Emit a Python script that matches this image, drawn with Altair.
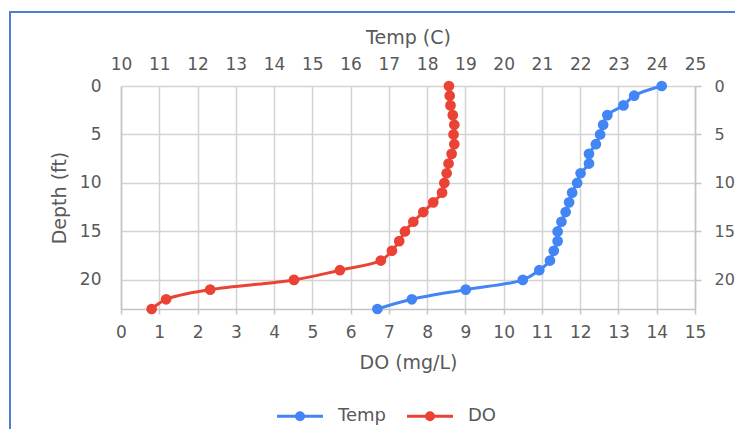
import altair as alt
import pandas as pd

# ---- data ----
depth = list(range(24))
temp = [24.13, 23.41, 23.13, 22.71, 22.60, 22.52, 22.41, 22.23, 22.23, 22.01,
        21.92, 21.79, 21.71, 21.62, 21.51, 21.41, 21.41, 21.31, 21.21, 20.93,
        20.50, 19.01, 17.60, 16.70]
do = [8.57, 8.59, 8.61, 8.67, 8.71, 8.69, 8.71, 8.64, 8.56, 8.51,
      8.45, 8.39, 8.16, 7.90, 7.64, 7.42, 7.27, 7.08, 6.79, 5.72,
      4.52, 2.33, 1.18, 0.80]
series = ["Temp", "DO"]
colors = ["#4285F4", "#EA4335"]
do_ticks = list(range(0, 16))
temp_ticks = list(range(10, 26))
depth_ticks = [0, 5, 10, 15, 20]

df = pd.DataFrame({"depth": depth, "temp": temp, "do": do})

FONT = "DejaVu Sans"
TXT = "#595959"
GRID = "#d3d3d3"
W, H = 574, 223

sym = "M-4.6,0L4.6,0M0.7,0A0.7,0.7,0,1,0,-0.7,0A0.7,0.7,0,1,0,0.7,0"

color = alt.Color(
    "series:N",
    scale=alt.Scale(domain=series, range=colors),
    legend=alt.Legend(
        title="", orient="none", direction="horizontal",
        legendX=170, legendY=321,
        symbolType=sym, symbolSize=100, symbolStrokeWidth=3,
        labelOffset=29, columnPadding=15,
        labelFont=FONT, labelFontSize=18, labelColor=TXT,
    ),
)

yscale = alt.Scale(domain=[0, 23], reverse=True, nice=False, zero=False)

do_base = alt.Chart(df).transform_calculate(series="'DO'").encode(
    x=alt.X("do:Q", scale=alt.Scale(domain=[0, 15], nice=False, zero=False),
            axis=alt.Axis(orient="bottom", values=do_ticks, title="DO (mg/L)",
                          grid=True, gridColor=GRID, gridWidth=1.5,
                          domain=True, domainColor="#c4c4c4", domainWidth=1.5,
                          ticks=True, tickSize=5, tickColor="#c4c4c4", tickWidth=1.5,
                          labelFlush=False, labelPadding=10, titlePadding=13)),
    y=alt.Y("depth:Q", scale=yscale,
            axis=alt.Axis(orient="left", values=depth_ticks, title="Depth (ft)",
                          grid=True, gridColor=GRID, gridWidth=1.5,
                          domain=True, domainColor="#c4c4c4", domainWidth=1.5,
                          ticks=False, tickSize=0, labelPadding=20, titlePadding=10)),
    color=color,
    order=alt.Order("depth:Q"),
)
do_layer = alt.layer(
    do_base.mark_line(strokeWidth=3, interpolate="catmull-rom"),
    do_base.mark_point(filled=True, size=115, opacity=1),
)

temp_base = alt.Chart(df).transform_calculate(series="'Temp'").encode(
    x=alt.X("temp:Q", scale=alt.Scale(domain=[10, 25], nice=False, zero=False),
            axis=alt.Axis(orient="top", values=temp_ticks, title="Temp (C)",
                          grid=False, domain=False, ticks=False, tickSize=0,
                          labelFlush=False, labelPadding=13, titlePadding=8)),
    y=alt.Y("depth:Q", scale=yscale,
            axis=alt.Axis(orient="right", values=depth_ticks, title="",
                          grid=False, domain=True, domainColor="#c4c4c4", domainWidth=1.5,
                          ticks=True, tickSize=6, tickColor="#c4c4c4", tickWidth=1.5,
                          labelFontSize=16, labelPadding=13)),
    color=color,
    order=alt.Order("depth:Q"),
)
temp_layer = alt.layer(
    temp_base.mark_line(strokeWidth=3, interpolate="catmull-rom"),
    temp_base.mark_point(filled=True, size=115, opacity=1),
)

border = alt.Chart(pd.DataFrame({"a": [0]})).mark_rect(
    fillOpacity=0, stroke="#4f7fd3", strokeWidth=2
).encode(
    x=alt.value(-111), x2=alt.value(700), y=alt.value(-74), y2=alt.value(420)
)

chart = alt.layer(border, temp_layer, do_layer).resolve_scale(
    x="independent", y="independent"
).properties(
    width=W, height=H,
    padding={"left": 113, "top": 78, "right": 40, "bottom": 120},
    autosize=alt.AutoSizeParams(type="none"),
).configure_view(stroke="transparent").configure_axis(
    labelFont=FONT, labelFontSize=17, labelColor=TXT,
    titleFont=FONT, titleFontSize=19, titleColor=TXT, titleFontWeight="normal",
).configure_legend(labelFont=FONT)

chart.save("out.html", embed_options={"renderer": "svg", "actions": False})
